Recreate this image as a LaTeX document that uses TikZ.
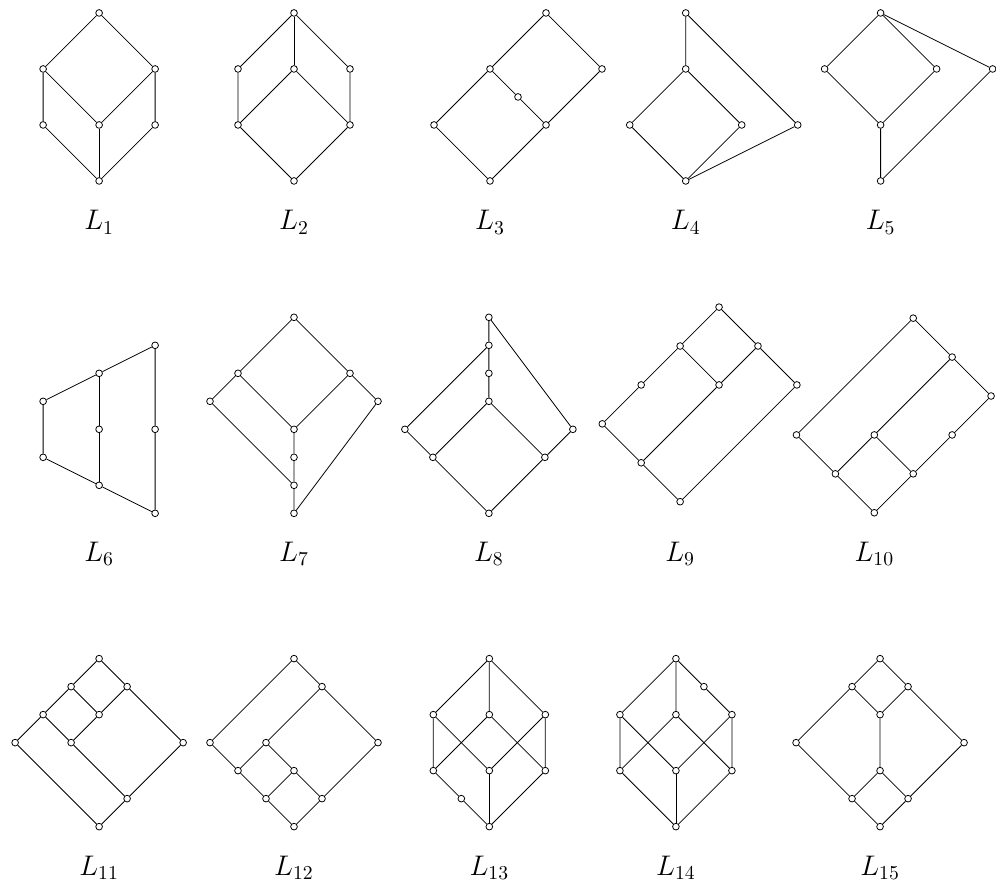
\documentclass[tikz,border=0pt]{standalone}

\tikzset{
  vtx/.style={circle, draw, fill=white, inner sep=0pt, minimum size=3.4pt},
  lbl/.style={anchor=base, font=\Large},
}

\begin{document}
\begin{tikzpicture}[x=0.5cm, y=0.5cm]
  \useasboundingbox (0,0) rectangle (35.571,31.643);

  % first row
  \begin{scope}[shift={(3.54,25.18)}, name prefix=L1-]
    \node[vtx] (t) at (0,6) {}; \node[vtx] (l) at (-2,4) {}; \node[vtx] (r) at (2,4) {};
    \node[vtx] (ll) at (-2,2) {}; \node[vtx] (m) at (0,2) {}; \node[vtx] (lr) at (2,2) {};
    \node[vtx] (z) at (0,0) {};
    \draw (ll) -- (l) -- (t) -- (r) -- (lr) -- (z) -- (ll);
    \draw (l) -- (m) -- (r);
    \draw (m) -- (z);
  \end{scope}

  \begin{scope}[shift={(10.5,25.18)}, name prefix=L2-]
    \node[vtx] (t) at (0,6) {}; \node[vtx] (l) at (-2,4) {}; \node[vtx] (m) at (0,4) {};
    \node[vtx] (r) at (2,4) {}; \node[vtx] (ll) at (-2,2) {}; \node[vtx] (lr) at (2,2) {};
    \node[vtx] (z) at (0,0) {};
    \draw (ll) -- (l) -- (t) -- (r) -- (lr) -- (z) -- (ll);
    \draw (t) -- (m);
    \draw (ll) -- (m) -- (lr);
  \end{scope}

  \begin{scope}[shift={(17.5,25.18)}, name prefix=L3-]
    \node[vtx] (t) at (2,6) {}; \node[vtx] (l) at (0,4) {}; \node[vtx] (r) at (4,4) {};
    \node[vtx] (s) at (1,3) {}; \node[vtx] (m) at (2,2) {}; \node[vtx] (fl) at (-2,2) {};
    \node[vtx] (z) at (0,0) {};
    \draw (fl) -- (l) -- (t) -- (r) -- (m) -- (z) -- (fl);
    \draw (l) -- (s) -- (m);
  \end{scope}

  \begin{scope}[shift={(24.49,25.18)}, name prefix=L4-]
    \node[vtx] (t) at (0,6) {}; \node[vtx] (n) at (0,4) {}; \node[vtx] (l) at (-2,2) {};
    \node[vtx] (ri) at (2,2) {}; \node[vtx] (fr) at (4,2) {}; \node[vtx] (z) at (0,0) {};
    \draw (fr) -- (t) -- (n) -- (l) -- (z) -- (ri) -- (n);
    \draw (z) -- (fr);
  \end{scope}

  \begin{scope}[shift={(31.45,25.18)}, name prefix=L5-]
    \node[vtx] (t) at (0,6) {}; \node[vtx] (l) at (-2,4) {}; \node[vtx] (mr) at (2,4) {};
    \node[vtx] (fr) at (4,4) {}; \node[vtx] (n) at (0,2) {}; \node[vtx] (z) at (0,0) {};
    \draw (n) -- (l) -- (t) -- (mr) -- (n) -- (z) -- (fr) -- (t);
  \end{scope}

  % second row
  \begin{scope}[shift={(3.54,13.31)}, name prefix=L6-]
    \node[vtx] (tr) at (2,6) {}; \node[vtx] (mt) at (0,5) {}; \node[vtx] (lt) at (-2,4) {};
    \node[vtx] (mm) at (0,3) {}; \node[vtx] (rm) at (2,3) {}; \node[vtx] (lb) at (-2,2) {};
    \node[vtx] (mb) at (0,1) {}; \node[vtx] (rb) at (2,0) {};
    \draw (lb) -- (lt) -- (mt) -- (tr) -- (rm) -- (rb) -- (mb) -- (lb);
    \draw (mt) -- (mm) -- (mb);
  \end{scope}

  \begin{scope}[shift={(10.5,13.31)}, name prefix=L7-]
    \node[vtx] (t) at (0,7) {}; \node[vtx] (l) at (-2,5) {}; \node[vtx] (r) at (2,5) {};
    \node[vtx] (fl) at (-3,4) {}; \node[vtx] (fr) at (3,4) {}; \node[vtx] (m) at (0,3) {};
    \node[vtx] (n1) at (0,2) {}; \node[vtx] (n2) at (0,1) {}; \node[vtx] (z) at (0,0) {};
    \draw (n2) -- (fl) -- (l) -- (t) -- (r) -- (fr) -- (z) -- (n2) -- (n1) -- (m) -- (l);
    \draw (m) -- (r);
  \end{scope}

  \begin{scope}[shift={(17.46,13.31)}, name prefix=L8-]
    \node[vtx] (t) at (0,7) {}; \node[vtx] (n1) at (0,6) {}; \node[vtx] (n2) at (0,5) {};
    \node[vtx] (n3) at (0,4) {}; \node[vtx] (fl) at (-3,3) {}; \node[vtx] (fr) at (3,3) {};
    \node[vtx] (l) at (-2,2) {}; \node[vtx] (r) at (2,2) {}; \node[vtx] (z) at (0,0) {};
    \draw (t) -- (n1) -- (n2) -- (n3) -- (l) -- (z) -- (r) -- (n3);
    \draw (n1) -- (fl) -- (l);
    \draw (t) -- (fr) -- (r);
  \end{scope}

  \begin{scope}[shift={(24.29,13.725)}, scale=1.39, name prefix=L9-]
    \node[vtx] (t) at (1,5) {}; \node[vtx] (a) at (0,4) {}; \node[vtx] (b) at (2,4) {};
    \node[vtx] (c) at (-1,3) {}; \node[vtx] (d) at (1,3) {}; \node[vtx] (e) at (3,3) {};
    \node[vtx] (f) at (-2,2) {}; \node[vtx] (g) at (-1,1) {}; \node[vtx] (z) at (0,0) {};
    \draw (f) -- (c) -- (a) -- (t) -- (b) -- (e) -- (z) -- (g) -- (f);
    \draw (a) -- (d) -- (b);
    \draw (d) -- (g);
  \end{scope}

  \begin{scope}[shift={(31.225,13.33)}, scale=1.39, name prefix=L10-]
    \node[vtx] (t) at (1,5) {}; \node[vtx] (a) at (2,4) {}; \node[vtx] (b) at (3,3) {};
    \node[vtx] (c) at (-2,2) {}; \node[vtx] (d) at (0,2) {}; \node[vtx] (e) at (2,2) {};
    \node[vtx] (f) at (-1,1) {}; \node[vtx] (g) at (1,1) {}; \node[vtx] (z) at (0,0) {};
    \draw (c) -- (t) -- (a) -- (b) -- (e) -- (g) -- (z) -- (f) -- (c);
    \draw (a) -- (d) -- (f);
    \draw (d) -- (g);
  \end{scope}

  % third row
  \begin{scope}[shift={(3.54,2.12)}, name prefix=L11-]
    \node[vtx] (t) at (0,6) {}; \node[vtx] (a) at (-1,5) {}; \node[vtx] (b) at (1,5) {};
    \node[vtx] (c) at (-2,4) {}; \node[vtx] (d) at (0,4) {}; \node[vtx] (e) at (-3,3) {};
    \node[vtx] (f) at (-1,3) {}; \node[vtx] (g) at (3,3) {}; \node[vtx] (h) at (1,1) {};
    \node[vtx] (z) at (0,0) {};
    \draw (e) -- (c) -- (a) -- (t) -- (b) -- (g) -- (h) -- (z) -- (e);
    \draw (a) -- (d) -- (b);
    \draw (c) -- (f) -- (d);
    \draw (f) -- (h);
  \end{scope}

  \begin{scope}[shift={(10.5,2.12)}, name prefix=L12-]
    \node[vtx] (t) at (0,6) {}; \node[vtx] (a) at (1,5) {}; \node[vtx] (b) at (-3,3) {};
    \node[vtx] (c) at (-1,3) {}; \node[vtx] (d) at (3,3) {}; \node[vtx] (e) at (-2,2) {};
    \node[vtx] (f) at (0,2) {}; \node[vtx] (g) at (-1,1) {}; \node[vtx] (h) at (1,1) {};
    \node[vtx] (z) at (0,0) {};
    \draw (b) -- (t) -- (a) -- (d) -- (h) -- (z) -- (g) -- (e) -- (b);
    \draw (a) -- (c) -- (e);
    \draw (c) -- (f) -- (g);
    \draw (f) -- (h);
  \end{scope}

  \begin{scope}[shift={(17.475,2.12)}, name prefix=L13-]
    \node[vtx] (t) at (0,6) {}; \node[vtx] (a) at (-2,4) {}; \node[vtx] (b) at (0,4) {};
    \node[vtx] (c) at (2,4) {}; \node[vtx] (d) at (-2,2) {}; \node[vtx] (e) at (0,2) {};
    \node[vtx] (f) at (2,2) {}; \node[vtx] (s) at (-1,1) {}; \node[vtx] (z) at (0,0) {};
    \draw (d) -- (a) -- (t) -- (c) -- (f) -- (z) -- (s) -- (d);
    \draw (t) -- (b) -- (d);
    \draw (b) -- (f);
    \draw (a) -- (e) -- (c);
    \draw (e) -- (z);
  \end{scope}

  \begin{scope}[shift={(24.14,2.12)}, name prefix=L14-]
    \node[vtx] (t) at (0,6) {}; \node[vtx] (s) at (1,5) {}; \node[vtx] (a) at (-2,4) {};
    \node[vtx] (b) at (0,4) {}; \node[vtx] (c) at (2,4) {}; \node[vtx] (d) at (-2,2) {};
    \node[vtx] (e) at (0,2) {}; \node[vtx] (f) at (2,2) {}; \node[vtx] (z) at (0,0) {};
    \draw (d) -- (a) -- (t) -- (s) -- (c) -- (f) -- (z) -- (d);
    \draw (t) -- (b) -- (d);
    \draw (b) -- (f);
    \draw (a) -- (e) -- (c);
    \draw (e) -- (z);
  \end{scope}

  \begin{scope}[shift={(31.43,2.12)}, name prefix=L15-]
    \node[vtx] (t) at (0,6) {}; \node[vtx] (a) at (-1,5) {}; \node[vtx] (b) at (1,5) {};
    \node[vtx] (c) at (0,4) {}; \node[vtx] (l) at (-3,3) {}; \node[vtx] (r) at (3,3) {};
    \node[vtx] (d) at (0,2) {}; \node[vtx] (e) at (-1,1) {}; \node[vtx] (f) at (1,1) {};
    \node[vtx] (z) at (0,0) {};
    \draw (l) -- (a) -- (t) -- (b) -- (r) -- (f) -- (z) -- (e) -- (l);
    \draw (a) -- (c) -- (b);
    \draw (c) -- (d) -- (e);
    \draw (d) -- (f);
  \end{scope}

  % names
  \node[lbl] (n1) at (3.54,23.43) {$L_1$};
  \node[lbl] (n2) at (10.5,23.43) {$L_2$};
  \node[lbl] (n3) at (17.5,23.43) {$L_3$};
  \node[lbl] (n4) at (24.49,23.43) {$L_4$};
  \node[lbl] (n5) at (31.45,23.43) {$L_5$};
  \node[lbl] (n6) at (3.54,11.59) {$L_6$};
  \node[lbl] (n7) at (10.5,11.59) {$L_7$};
  \node[lbl] (n8) at (17.46,11.59) {$L_8$};
  \node[lbl] (n9) at (24.29,11.59) {$L_9$};
  \node[lbl] (n10) at (31.225,11.59) {$L_{10}$};
  \node[lbl] (n11) at (3.54,0.39) {$L_{11}$};
  \node[lbl] (n12) at (10.5,0.39) {$L_{12}$};
  \node[lbl] (n13) at (17.475,0.39) {$L_{13}$};
  \node[lbl] (n14) at (24.14,0.39) {$L_{14}$};
  \node[lbl] (n15) at (31.43,0.39) {$L_{15}$};
\end{tikzpicture}
\end{document}
